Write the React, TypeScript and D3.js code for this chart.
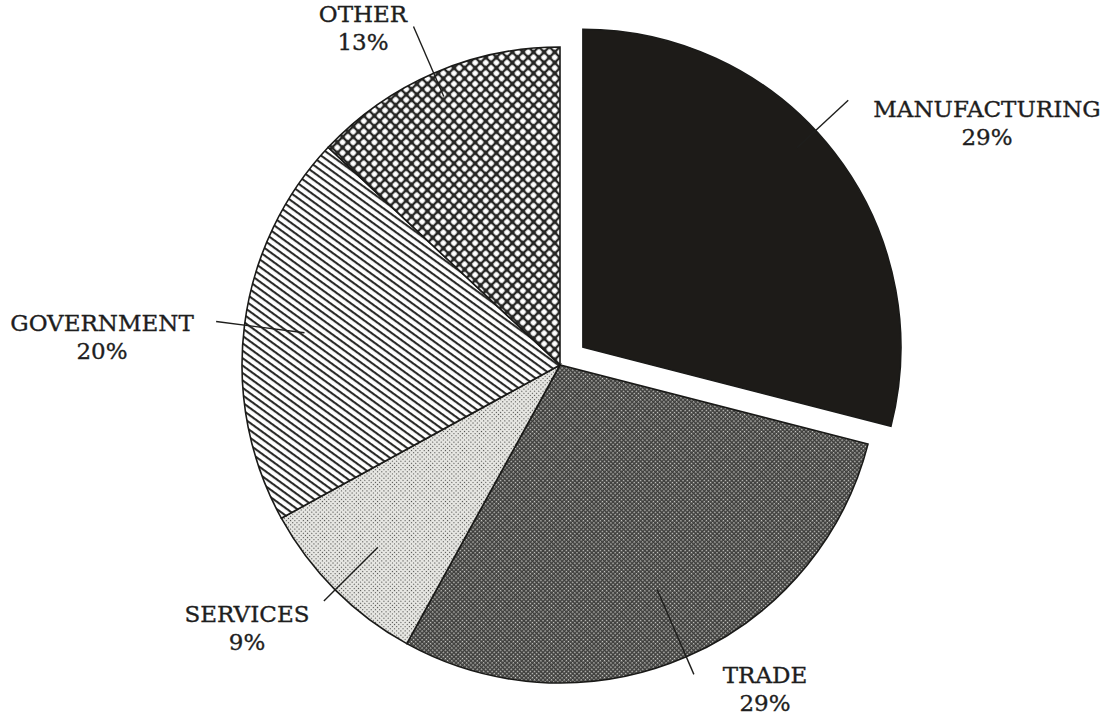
import React, { useEffect, useRef } from 'react';
import * as d3 from 'd3';

const categories = ['MANUFACTURING', 'TRADE', 'SERVICES', 'GOVERNMENT', 'OTHER'];
const shares = [29, 29, 9, 20, 13];
const percentLabels = ['29%', '29%', '9%', '20%', '13%'];

// label placement relative to pie centre, leader radii as fraction of r
const layout: Record<string, { lx: number; ly: number; r0: number; r1: number; da: number }> = {
  MANUFACTURING: { lx: 429, ly: -248, r0: 0.92, r1: 1.14, da: -0.09 },
  TRADE: { lx: 207, ly: 318, r0: 0.77, r1: 1.06, da: 0 },
  SERVICES: { lx: -311, ly: 257, r0: 0.81, r1: 1.05, da: 0 },
  GOVERNMENT: { lx: -456, ly: -34, r0: 0.81, r1: 1.09, da: 0 },
  OTHER: { lx: -195, ly: -343, r0: 0.92, r1: 1.16, da: 0 },
};

const fills: Record<string, string> = {
  MANUFACTURING: '#1d1b18',
  TRADE: 'url(#p-trade)',
  SERVICES: 'url(#p-services)',
  GOVERNMENT: 'url(#p-gov)',
  OTHER: 'url(#p-other)',
};

export default function App() {
  const ref = useRef<SVGSVGElement>(null);

  useEffect(() => {
    const width = 1112;
    const height = 718;
    const cx = 560;
    const cy = 365;
    const radius = 318;
    const explode = 29;

    const svg = d3.select(ref.current);
    svg.selectAll('*').remove();

    const defs = svg.append('defs');

    // trade: dense dark crosshatch
    const pt = defs.append('pattern').attr('id', 'p-trade').attr('patternUnits', 'userSpaceOnUse')
      .attr('width', 3).attr('height', 3).attr('patternTransform', 'rotate(45)');
    pt.append('rect').attr('width', 3).attr('height', 3).attr('fill', '#3e3e3c');
    pt.append('rect').attr('width', 1.4).attr('height', 1.4).attr('fill', '#cfcfcb');

    // services: fine dots
    const ps = defs.append('pattern').attr('id', 'p-services').attr('patternUnits', 'userSpaceOnUse')
      .attr('width', 3).attr('height', 3).attr('patternTransform', 'rotate(45)');
    ps.append('rect').attr('width', 3).attr('height', 3).attr('fill', '#e8e8e4');
    ps.append('rect').attr('width', 1.1).attr('height', 1.1).attr('fill', '#4a4a48');

    // government: diagonal lines
    const pg = defs.append('pattern').attr('id', 'p-gov').attr('patternUnits', 'userSpaceOnUse')
      .attr('width', 10).attr('height', 6).attr('patternTransform', 'rotate(36)');
    pg.append('rect').attr('width', 10).attr('height', 6).attr('fill', '#fff');
    pg.append('rect').attr('y', 0).attr('width', 10).attr('height', 2.1).attr('fill', '#2a2a28');

    // other: diamond grid
    const po = defs.append('pattern').attr('id', 'p-other').attr('patternUnits', 'userSpaceOnUse')
      .attr('width', 7.5).attr('height', 7.5).attr('patternTransform', 'rotate(45)');
    po.append('rect').attr('width', 7.5).attr('height', 7.5).attr('fill', '#262624');
    po.append('rect').attr('x', 1.2).attr('y', 1.2).attr('width', 5.1).attr('height', 5.1)
      .attr('rx', 1.4).attr('fill', '#fff');

    svg.attr('width', width).attr('height', height);

    const pie = d3.pie<number>().sort(null).value((d) => d);
    const arcs = pie(shares);
    const arc = d3.arc<d3.PieArcDatum<number>>().innerRadius(0).outerRadius(radius);

    const g = svg.append('g').attr('transform', `translate(${cx},${cy})`);

    const slices = g.selectAll('g.slice').data(arcs).enter().append('g').attr('class', 'slice')
      .attr('transform', (d, i) => {
        if (i !== 0) return null;
        const mid = (d.startAngle + d.endAngle) / 2;
        return `translate(${Math.sin(mid) * explode},${-Math.cos(mid) * explode})`;
      });

    slices.append('path')
      .attr('d', arc)
      .attr('fill', (d, i) => fills[categories[i]])
      .attr('stroke', '#1a1a18')
      .attr('stroke-width', 1.6);

    slices.each(function (d, i) {
      const L = layout[categories[i]];
      const a = (d.startAngle + d.endAngle) / 2 + L.da;
      d3.select(this).append('line')
        .attr('x1', Math.sin(a) * radius * L.r0)
        .attr('y1', -Math.cos(a) * radius * L.r0)
        .attr('x2', Math.sin(a) * radius * L.r1)
        .attr('y2', -Math.cos(a) * radius * L.r1)
        .attr('stroke', '#1e1e1c')
        .attr('stroke-width', 1.4);
    });

    const labels = g.selectAll('g.label').data(categories).enter().append('g').attr('class', 'label')
      .attr('transform', (c) => `translate(${layout[c].lx - 2},${layout[c].ly})`)
      .style('font-family', '"DejaVu Serif", serif')
      .style('font-size', '23px')
      .attr('fill', '#1e1e1e')
      .attr('stroke', '#1e1e1e')
      .attr('stroke-width', 0.35)
      .attr('text-anchor', 'middle');

    labels.append('text').text((c) => c);
    labels.append('text').attr('y', 28).text((c, i) => percentLabels[i]);
  }, []);

  return (
    <div>
      <svg ref={ref} style={{ display: 'block', position: 'absolute', left: 0, top: 0 }} />
    </div>
  );
}
